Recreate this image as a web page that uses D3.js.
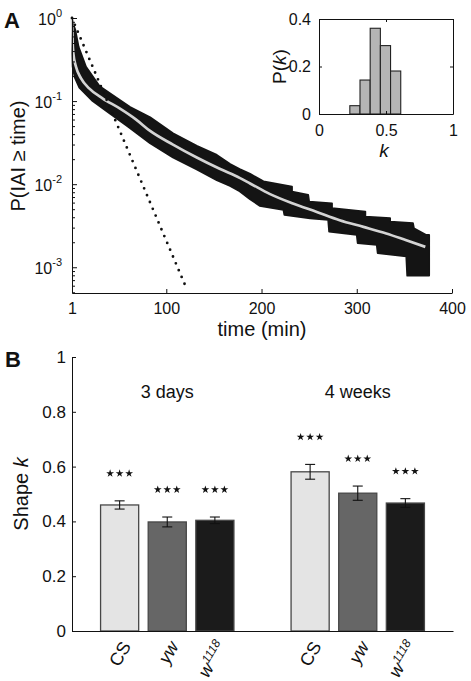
<!DOCTYPE html>
<html><head><meta charset="utf-8">
<script src="https://cdn.jsdelivr.net/npm/d3@7"></script>
<style>
html,body{margin:0;padding:0;background:#fff;}
svg{display:block;font-family:"Liberation Sans",Arial,Helvetica,sans-serif;}
</style></head><body>
<svg id="chart" width="471" height="681"></svg>
<script>
// ---------- Panel A data ----------
const timeFit = [1, 1.7, 2.4, 5.2, 10.5, 19, 33, 51, 68, 83, 107, 132, 156, 177, 188, 209, 233, 258, 282, 307, 331, 352, 372];
const probFit = [1, 0.50, 0.376, 0.259, 0.188, 0.142, 0.108, 0.0817, 0.0603, 0.0437, 0.0299, 0.0209, 0.0153, 0.0119, 0.0102, 0.00759, 0.00585, 0.00463, 0.00368, 0.00306, 0.00255, 0.00211, 0.00176];

const timeUpper = [1, 2, 4.5, 8, 15.7, 30, 50, 62, 83, 107, 132, 153, 167, 177, 188, 202, 232, 232, 249, 250, 274, 274, 309, 309, 335, 335, 359, 360, 373, 376];
const probUpper = [1, 0.871, 0.716, 0.447, 0.259, 0.151, 0.105, 0.085, 0.064, 0.041, 0.029, 0.0225, 0.0175, 0.0152, 0.0133, 0.0108, 0.00933, 0.00813, 0.00741, 0.00617, 0.00589, 0.00513, 0.00468, 0.00407, 0.00389, 0.00355, 0.00339, 0.00295, 0.00245, 0.00245];

const timeLower = [1, 1.7, 4, 8.7, 22.7, 40, 60, 83, 107, 132, 153, 167, 177, 188, 198, 223, 224, 251, 270, 271, 300, 301, 321, 322, 352, 353, 376];
const probLower = [0.562, 0.259, 0.191, 0.145, 0.100, 0.072, 0.049, 0.031, 0.021, 0.0150, 0.0112, 0.0095, 0.0082, 0.0066, 0.0055, 0.0049, 0.00427, 0.00389, 0.00372, 0.00269, 0.00245, 0.00195, 0.00186, 0.00148, 0.00135, 0.000794, 0.000794];

const timeExp = [1, 120];
const probExp = [1, 0.0006];

const xTicksA = [1, 100, 200, 300, 400];
const yDecadesA = [0, -1, -2, -3];

// inset histogram
const kEdges = [0.23, 0.306, 0.382, 0.458, 0.534, 0.61];
const kProb = [0.035, 0.143, 0.361, 0.288, 0.181];
const insetXTicks = [0, 0.5, 1];
const insetYTicks = [0, 0.2, 0.4];

// ---------- Panel B data ----------
const groups = ["3 days", "4 weeks"];
const strains = ["CS", "yw", "w1118"];
const shape3d = [0.460, 0.398, 0.404];
const err3d = [0.015, 0.018, 0.012];
const shape4w = [0.581, 0.503, 0.467];
const err4w = [0.027, 0.026, 0.016];
const yTicksB = [0, 0.2, 0.4, 0.6, 0.8, 1];

const strainFill = ["#e4e4e4", "#666666", "#1b1b1b"];

const svg = d3.select("#chart");
const FS = 16;

// ================= PANEL A =================
const xA = d3.scaleLinear().domain([1, 400]).range([72, 452]);
const yA = d3.scaleLog().domain([4.9e-4, 1]).range([293, 18]);
const lineA = d3.line().x(d => xA(d[0])).y(d => yA(d[1]));

const bandPts = timeUpper.map((t, i) => [t, probUpper[i]])
  .concat(timeLower.map((t, i) => [t, probLower[i]]).reverse());
svg.append("path").attr("d", lineA(bandPts) + "Z")
  .attr("fill", "#141414").attr("stroke", "#141414").attr("stroke-width", 1.8).attr("stroke-linejoin", "round");

const fitPts = timeFit.map((t, i) => [t, probFit[i]]);
svg.append("path").attr("d", lineA.curve(d3.curveMonotoneX)(fitPts))
  .attr("fill", "none").attr("stroke", "#d4d4d4").attr("stroke-width", 2.7);
lineA.curve(d3.curveLinear);

const expPts = timeExp.map((t, i) => [t, probExp[i]]);
svg.append("path").attr("d", lineA(expPts))
  .attr("fill", "none").attr("stroke", "#111").attr("stroke-width", 2.8)
  .attr("stroke-linecap", "round").attr("stroke-dasharray", "0 7.4");

// axes A
const minorA = [];
for (let e = -4; e < 0; e++) for (let m = 2; m <= 9; m++) {
  const v = m * Math.pow(10, e);
  if (v >= 4.9e-4 && v <= 1) minorA.push(v);
}
svg.append("g").attr("transform", "translate(72,0)")
  .call(d3.axisLeft(yA).tickValues(yDecadesA.map(e => Math.pow(10, e))).tickSize(-5).tickSizeOuter(0).tickFormat(""));
svg.append("g").attr("transform", "translate(72,0)")
  .call(d3.axisLeft(yA).tickValues(minorA).tickSize(-3).tickSizeOuter(0).tickFormat(""))
  .select(".domain").remove();
const gAx = svg.append("g").attr("transform", "translate(0,293)")
  .call(d3.axisBottom(xA).tickValues(xTicksA).tickSize(-4).tickSizeOuter(0).tickPadding(10).tickFormat(d3.format("d")));
gAx.selectAll("text").attr("font-size", FS).attr("font-family", null).attr("fill", "#111");

yDecadesA.forEach(e => {
  const t = svg.append("text").attr("x", 62).attr("y", yA(Math.pow(10, e)) + 6.5)
    .attr("text-anchor", "end").attr("font-size", FS).attr("fill", "#111");
  t.append("tspan").text("10");
  t.append("tspan").attr("dy", -7.5).attr("font-size", 11).text(String(e));
});

svg.append("text").attr("transform", "translate(25,156) rotate(-90)")
  .attr("text-anchor", "middle").attr("font-size", 20).attr("fill", "#111").text("P(IAI \u2265 time)");
svg.append("text").attr("x", 262).attr("y", 336).attr("text-anchor", "middle")
  .attr("font-size", 20).attr("fill", "#111").text("time (min)");
svg.append("text").attr("x", 4).attr("y", 28).attr("font-size", 22).attr("font-weight", "bold").attr("fill", "#111").text("A");

// ---------- inset ----------
const xI = d3.scaleLinear().domain([0, 1]).range([319, 453]);
const yI = d3.scaleLinear().domain([0, 0.4]).range([114, 19]);
svg.append("rect").attr("x", xI(0)).attr("y", yI(0.4)).attr("width", xI(1) - xI(0)).attr("height", yI(0) - yI(0.4))
  .attr("fill", "#fff").attr("stroke", "none");
svg.append("g").selectAll("rect").data(kProb).join("rect")
  .attr("x", (d, i) => xI(kEdges[i])).attr("width", (d, i) => xI(kEdges[i + 1]) - xI(kEdges[i]))
  .attr("y", d => yI(d)).attr("height", d => yI(0) - yI(d))
  .attr("fill", "#b5b5b5").attr("stroke", "#222").attr("stroke-width", 1.1);
const gIx = svg.append("g").attr("transform", "translate(0,114)")
  .call(d3.axisBottom(xI).tickValues(insetXTicks).tickSize(-3).tickSizeOuter(0).tickPadding(11).tickFormat(d => d === 0.5 ? "0.5" : String(d)));
const gIy = svg.append("g").attr("transform", "translate(319,0)")
  .call(d3.axisLeft(yI).tickValues(insetYTicks).tickSize(-3).tickSizeOuter(0).tickPadding(8).tickFormat(d => d === 0 ? "0" : d3.format(".1f")(d)));
svg.append("g").attr("transform", "translate(0,19)")
  .call(d3.axisTop(xI).tickValues(insetXTicks).tickSize(-3).tickSizeOuter(0).tickFormat(""));
svg.append("g").attr("transform", "translate(453,0)")
  .call(d3.axisRight(yI).tickValues(insetYTicks).tickSize(-3).tickSizeOuter(0).tickFormat(""));
[gIx, gIy].forEach(g => g.selectAll("text").attr("font-size", FS).attr("font-family", null).attr("fill", "#111"));
svg.append("text").attr("x", 384).attr("y", 157).attr("text-anchor", "middle")
  .attr("font-size", 19).attr("font-style", "italic").attr("fill", "#111").text("k");
const pk = svg.append("text").attr("transform", "translate(286,66.5) rotate(-90)")
  .attr("text-anchor", "middle").attr("font-size", 19).attr("fill", "#111");
pk.append("tspan").text("P(");
pk.append("tspan").attr("font-style", "italic").text("k");
pk.append("tspan").text(")");

// ================= PANEL B =================
const xB = d3.scaleLinear().domain([0, 8]).range([72, 453]);
const yB = d3.scaleLinear().domain([0, 1]).range([631, 357]);
const barData = [];
[shape3d, shape4w].forEach((vals, g) => {
  const errs = g === 0 ? err3d : err4w;
  vals.forEach((v, i) => barData.push({ g, i, v, e: errs[i], pos: 1 + g * 4 + i }));
});
const bw = 0.8;
svg.append("g").selectAll("rect").data(barData).join("rect")
  .attr("x", d => xB(d.pos - bw / 2)).attr("width", xB(bw) - xB(0))
  .attr("y", d => yB(d.v)).attr("height", d => yB(0) - yB(d.v))
  .attr("fill", d => strainFill[d.i]).attr("stroke", "#474747").attr("stroke-width", 1.3);

const eb = svg.append("g").attr("stroke", "#111").attr("stroke-width", 1.1);
barData.forEach(d => {
  const cx = xB(d.pos);
  eb.append("line").attr("x1", cx).attr("x2", cx).attr("y1", yB(d.v - d.e)).attr("y2", yB(d.v + d.e));
  eb.append("line").attr("x1", cx - 5).attr("x2", cx + 5).attr("y1", yB(d.v - d.e)).attr("y2", yB(d.v - d.e));
  eb.append("line").attr("x1", cx - 5).attr("x2", cx + 5).attr("y1", yB(d.v + d.e)).attr("y2", yB(d.v + d.e));
});

const star = d3.symbol().type(d3.symbolStar).size(19);
const sg = svg.append("g").attr("fill", "#111");
barData.forEach(d => {
  const cx = xB(d.pos), cy = yB(d.v + d.e + 0.1);
  [-9.5, 0, 9.5].forEach(o => sg.append("path").attr("d", star()).attr("transform", `translate(${cx + o},${cy})`));
});

const gBy = svg.append("g").attr("transform", "translate(72,0)")
  .call(d3.axisLeft(yB).tickValues(yTicksB).tickSize(-4).tickSizeOuter(0).tickPadding(6)
    .tickFormat(d => (d === 0 || d === 1) ? String(d) : d3.format(".1f")(d)));
gBy.selectAll("text").attr("font-size", 17).attr("font-family", null).attr("fill", "#111");
svg.append("g").attr("transform", "translate(0,631)")
  .call(d3.axisBottom(xB).tickValues([]).tickSizeOuter(0));

groups.forEach((g, gi) => {
  svg.append("text").attr("x", xB(2 + gi * 4)).attr("y", 398).attr("text-anchor", "middle")
    .attr("font-size", 18).attr("fill", "#111").text(g);
});

barData.forEach(d => {
  const cx = xB(d.pos);
  const t = svg.append("text").attr("transform", `translate(${cx + 12},646) rotate(-60)`)
    .attr("text-anchor", "end").attr("font-size", 18).attr("fill", "#111");
  if (d.i === 0) t.text(strains[0]);
  else if (d.i === 1) t.attr("font-style", "italic").text(strains[1]);
  else {
    t.attr("font-style", "italic");
    t.append("tspan").text("w");
    t.append("tspan").attr("dy", -7).attr("font-size", 12).text("1118");
  }
});

const sk = svg.append("text").attr("transform", "translate(28,494) rotate(-90)")
  .attr("text-anchor", "middle").attr("font-size", 20).attr("fill", "#111");
sk.append("tspan").text("Shape ");
sk.append("tspan").attr("font-style", "italic").text("k");
svg.append("text").attr("x", 5).attr("y", 367).attr("font-size", 22).attr("font-weight", "bold").attr("fill", "#111").text("B");

svg.selectAll(".domain").attr("stroke", "#111");
svg.selectAll(".tick line").attr("stroke", "#111");
</script>
</body></html>
